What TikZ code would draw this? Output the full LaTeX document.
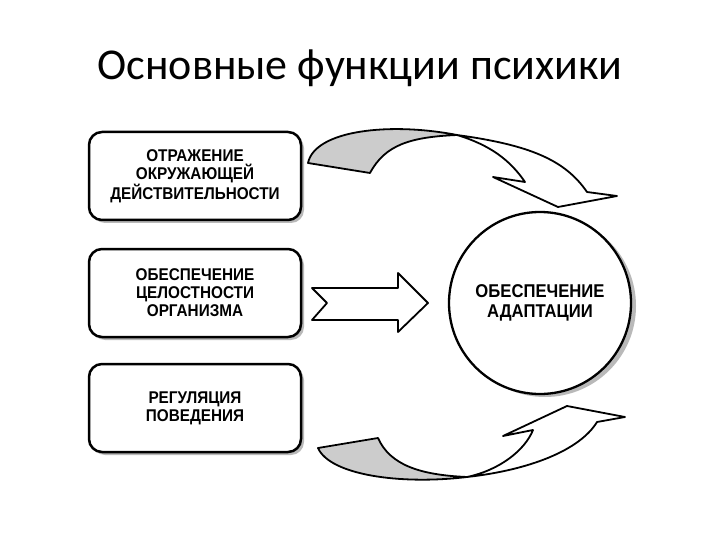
\documentclass[tikz,border=0pt]{standalone}
\usepackage{fontspec}
\setmainfont{Liberation Sans}
\newfontfamily\titlefont{Carlito}
\newfontfamily\boxfont[FakeStretch=0.9]{Liberation Sans}
\usetikzlibrary{shadows}

\tikzset{
  funcbox/.style={draw, line width=2.5pt, rounded corners=13pt, fill=white,
    minimum width=212pt, minimum height=88pt, align=center,
    font=\boxfont\fontsize{17}{18}\selectfont\bfseries,
    drop shadow={shadow xshift=3pt, shadow yshift=-3pt, fill=gray!55, opacity=1}},
  goalcircle/.style={draw, circle, line width=2.3pt, fill=white, minimum size=182pt,
    align=center, font=\boxfont\fontsize{18.5}{20}\selectfont\bfseries,
    drop shadow={shadow xshift=5pt, shadow yshift=-3pt, fill=gray!55, opacity=1}},
  ribbon/.style={draw, line width=1.8pt, line join=round},
  ribback/.style={ribbon, fill=gray!40},
  ribfront/.style={ribbon, fill=white}
}

\begin{document}
\begin{tikzpicture}[x=1pt,y=-1pt]
  \useasboundingbox (0,0) rectangle (720,540);
  \node (title) at (360,68) {\titlefont\fontsize{44}{52}\selectfont Основные функции психики};

  % three functions
  \node (reflect) [funcbox] at (195,176) {ОТРАЖЕНИЕ\\ОКРУЖАЮЩЕЙ\\ДЕЙСТВИТЕЛЬНОСТИ};
  \node (integr) [funcbox] at (195,293) {ОБЕСПЕЧЕНИЕ\\ЦЕЛОСТНОСТИ\\ОРГАНИЗМА};
  \node (regul) [funcbox] at (195,408) {РЕГУЛЯЦИЯ\\ПОВЕДЕНИЯ};

  % result
  \node (adapt) [goalcircle] at (540,303) {ОБЕСПЕЧЕНИЕ\\АДАПТАЦИИ};

  % top twisted arrow
  \draw[ribback] (308,163) .. controls (315,130) and (390,122) .. (457,135)
    .. controls (410,137) and (385,145) .. (370,173) -- cycle;
  \draw[ribfront] (457,135) .. controls (530,145) and (565,160) .. (587,192)
    -- (617,196) -- (558,207) -- (493,177) -- (525,182)
    .. controls (510,160) and (490,145) .. (457,135);

  % straight arrow
  \draw[ribfront] (312,288) -- (398,288) -- (398,273) -- (428,303) -- (398,332)
    -- (398,320) -- (312,320) -- (327,303) -- cycle;

  % bottom twisted arrow
  \draw[ribback] (318,448) .. controls (330,475) and (400,485) .. (467,477)
    .. controls (420,475) and (390,465) .. (378,438) -- cycle;
  \draw[ribfront] (467,477) .. controls (530,470) and (580,450) .. (597,422)
    -- (625,417) -- (567,406) -- (503,436) -- (533,430)
    .. controls (525,450) and (500,470) .. (467,477);
\end{tikzpicture}
\end{document}
